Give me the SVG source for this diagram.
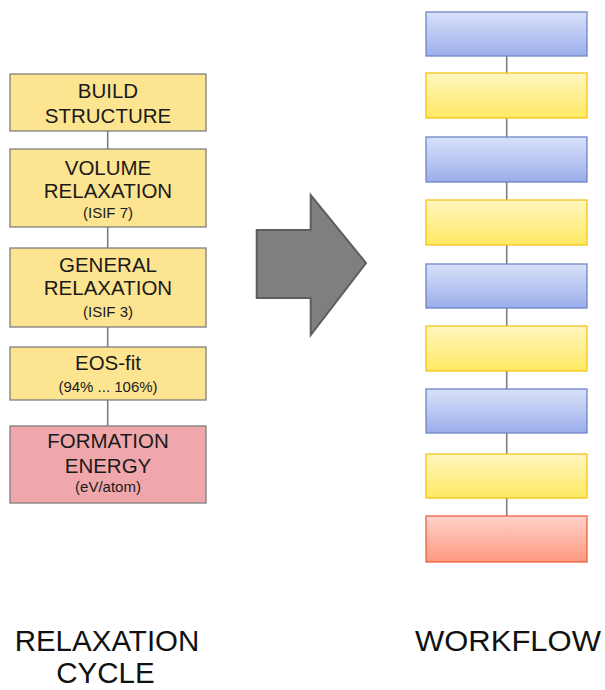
<svg xmlns="http://www.w3.org/2000/svg" width="605" height="690" viewBox="0 0 605 690">
<defs>
<linearGradient id="gBlue" x1="0" y1="0" x2="0" y2="1"><stop offset="0" stop-color="#D9E1F9"/><stop offset="1" stop-color="#9BAEEB"/></linearGradient>
<linearGradient id="gYel" x1="0" y1="0" x2="0" y2="1"><stop offset="0" stop-color="#FFF6C0"/><stop offset="1" stop-color="#FFE963"/></linearGradient>
<linearGradient id="gRed" x1="0" y1="0" x2="0" y2="1"><stop offset="0" stop-color="#FFD2CA"/><stop offset="1" stop-color="#FF987E"/></linearGradient>
</defs>
<style>
.lt{font-family:"Liberation Sans",Arial,sans-serif;fill:#1a1a1a;text-anchor:middle}
.big{font-size:20.5px}
.sm{font-size:15px}
.lab{font-size:29.5px;fill:#111}
.yb{fill:#FCE491;stroke:#7F7F7F;stroke-width:1.3}
.pb{fill:#EFA7AB;stroke:#7F7F7F;stroke-width:1.3}
.con{stroke:#7F7F7F;stroke-width:1.6;fill:none}
.rb{stroke-width:1.3}
.blue{fill:url(#gBlue);stroke:#6F84C6}
.yel{fill:url(#gYel);stroke:#F4C417}
.red{fill:url(#gRed);stroke:#E6643E}
</style>
<rect width="605" height="690" fill="#fff"/>
<g id="connectors">
<line class="con" x1="107.7" y1="131" x2="107.7" y2="149"/>
<line class="con" x1="107.7" y1="227" x2="107.7" y2="248"/>
<line class="con" x1="107.7" y1="327" x2="107.7" y2="347"/>
<line class="con" x1="107.7" y1="400" x2="107.7" y2="426"/>
<line class="con" x1="506.7" y1="56" x2="506.7" y2="516"/>
</g>
<g id="build"><rect class="yb" x="10" y="74" width="196" height="57"/>
<text class="lt big" x="108" y="98">BUILD</text><text class="lt big" x="108" y="123">STRUCTURE</text></g>
<g id="volume"><rect class="yb" x="10" y="149" width="196" height="78"/>
<text class="lt big" x="108" y="175">VOLUME</text><text class="lt big" x="108" y="198">RELAXATION</text><text class="lt sm" x="108" y="218">(ISIF 7)</text></g>
<g id="general"><rect class="yb" x="10" y="248" width="196" height="79"/>
<text class="lt big" x="108" y="272">GENERAL</text><text class="lt big" x="108" y="295">RELAXATION</text><text class="lt sm" x="108" y="317">(ISIF 3)</text></g>
<g id="eos"><rect class="yb" x="10" y="347" width="196" height="53"/>
<text class="lt big" x="108" y="370">EOS-fit</text><text class="lt sm" x="108" y="392">(94% ... 106%)</text></g>
<g id="formation"><rect class="pb" x="10" y="426" width="196" height="77"/>
<text class="lt big" x="108" y="448">FORMATION</text><text class="lt big" x="108" y="473">ENERGY</text><text class="lt sm" x="108" y="492">(eV/atom)</text></g>
<g id="arrow"><polygon points="256.7,230 310.7,230 310.7,195 366,263 310.7,335 310.7,298 256.7,298" fill="#7F7F7F" stroke="#5E5E5E" stroke-width="2"/></g>
<g id="w1"><rect class="rb blue" x="426" y="12" width="161" height="44"/></g>
<g id="w2"><rect class="rb yel" x="426" y="73" width="161" height="45"/></g>
<g id="w3"><rect class="rb blue" x="426" y="137" width="161" height="45"/></g>
<g id="w4"><rect class="rb yel" x="426" y="200" width="161" height="45"/></g>
<g id="w5"><rect class="rb blue" x="426" y="264" width="161" height="44"/></g>
<g id="w6"><rect class="rb yel" x="426" y="326" width="161" height="45"/></g>
<g id="w7"><rect class="rb blue" x="426" y="389" width="161" height="44"/></g>
<g id="w8"><rect class="rb yel" x="426" y="454" width="161" height="44"/></g>
<g id="w9"><rect class="rb red" x="426" y="516" width="161" height="46"/></g>
<g id="labels">
<text class="lt lab" x="107" y="651">RELAXATION</text>
<text class="lt lab" x="105.5" y="683">CYCLE</text>
<text class="lt lab" x="508" y="651" textLength="186" lengthAdjust="spacingAndGlyphs">WORKFLOW</text>
</g>
</svg>
